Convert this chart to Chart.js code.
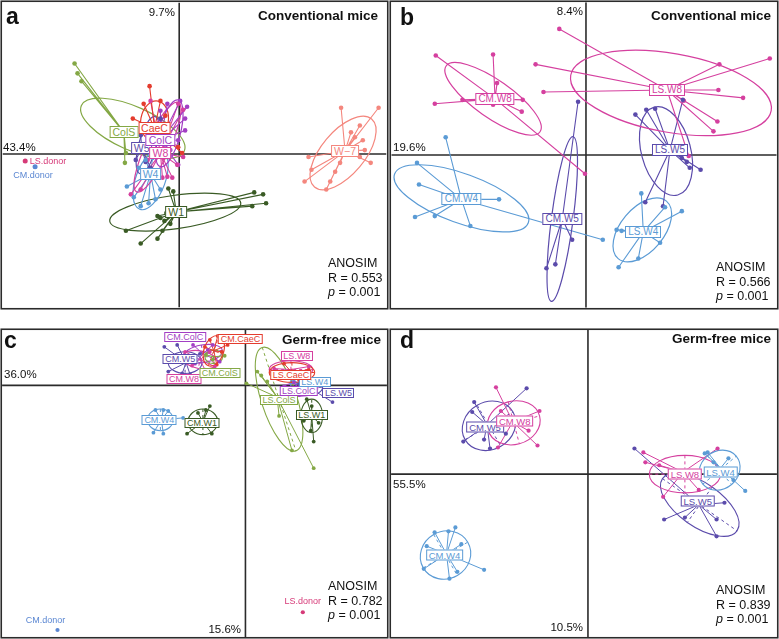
<!DOCTYPE html>
<html><head><meta charset="utf-8">
<script src="https://cdn.jsdelivr.net/npm/chart.js@4.4.1/dist/chart.umd.min.js"></script>
<style>
html,body{margin:0;padding:0;background:#fff}
#fig{position:relative;width:779px;height:639px;overflow:hidden;font-family:"Liberation Sans",Arial,Helvetica,sans-serif;color:#111}
#fig canvas{position:absolute}
.t{position:absolute;white-space:nowrap;line-height:1}
.lab{position:absolute;white-space:nowrap;background:#fff;transform:translate(-50%,-50%);box-sizing:border-box}
.dl{position:absolute;white-space:nowrap;line-height:1;transform:translate(-50%,-50%)}
</style></head><body>
<div id="fig">
<canvas id="pa" width="389" height="310"></canvas>
<canvas id="pb" width="390" height="310"></canvas>
<canvas id="pc" width="389" height="311"></canvas>
<canvas id="pd" width="390" height="311"></canvas>
</div>
<script>
// ---------------- texts ----------------
const panelLetters = ['a','b','c','d'];
const panelTitles = ['Conventional mice','Conventional mice','Germ-free mice','Germ-free mice'];
const pc1Pct = ['43.4%','19.6%','36.0%','55.5%'];
const pc2Pct = ['9.7%','8.4%','15.6%','10.5%'];
const anosimR = ['0.553','0.566','0.782','0.839'];
const anosimP = ['0.001','0.001','0.001','0.001'];

// ---------------- panel a : conventional mice ----------------
const aGroups = ['W1','W−7','ColS','W4','W5','W8','CaeC','ColC'];
const aCentroids = [[-0.003,-0.059],[0.168,0.003],[-0.056,0.022],[-0.029,-0.020],[-0.038,0.006],[-0.019,0.001],[-0.025,0.026],[-0.019,0.014]];
const aEllipses = [[-0.004,-0.059,0.067,0.017,8],[0.166,0.001,0.045,0.022,50],[-0.047,0.026,0.057,0.022,-24],[-0.029,-0.026,0.032,0.015,70],[-0.032,0.009,0.030,0.009,75],[-0.022,0.007,0.050,0.012,65],[-0.025,0.034,0.020,0.014,80],[-0.010,0.021,0.035,0.011,75]];
const aPtsW1 = [[0.076,-0.039],[0.085,-0.041],[0.088,-0.050],[0.074,-0.053],[-0.011,-0.035],[-0.006,-0.038],[-0.022,-0.063],[-0.019,-0.065],[-0.015,-0.068],[-0.013,-0.060],[-0.054,-0.078],[-0.039,-0.091],[-0.022,-0.086],[-0.017,-0.078],[-0.009,-0.071]];
const aPtsW7 = [[0.164,0.047],[0.202,0.047],[0.174,0.022],[0.183,0.029],[0.186,0.014],[0.178,0.017],[0.188,0.004],[0.194,-0.009],[0.183,-0.003],[0.163,-0.009],[0.158,-0.018],[0.153,-0.028],[0.149,-0.036],[0.127,-0.028],[0.134,-0.016],[0.131,-0.003]];
const aPtsColS = [[-0.106,0.092],[-0.103,0.082],[-0.099,0.074],[-0.054,0.001],[-0.055,-0.009]];
const aPtsW4 = [[-0.053,-0.033],[-0.046,-0.044],[-0.039,-0.053],[-0.031,-0.050],[-0.024,-0.046],[-0.019,-0.036],[-0.034,-0.006],[-0.027,-0.004],[-0.041,-0.014]];
const aPtsW5 = [[-0.039,0.019],[-0.034,-0.008],[-0.029,-0.014],[-0.024,0.024],[-0.019,0.036],[-0.044,-0.006],[-0.014,0.004]];
const aPtsW8 = [[-0.049,-0.041],[-0.039,-0.036],[-0.017,-0.024],[-0.012,-0.023],[-0.007,-0.024],[-0.001,0.051],[0.004,0.045],[0.004,-0.003],[-0.002,-0.011],[-0.029,0.054],[-0.032,-0.006]];
const aPtsCaeC = [[-0.030,0.069],[-0.047,0.036],[-0.036,0.051],[-0.019,0.054],[-0.014,0.039],[0.003,0.001],[-0.001,0.007],[-0.009,0.014]];
const aPtsColC = [[-0.012,0.051],[0.001,0.054],[0.008,0.048],[0.006,0.036],[0.006,0.024],[-0.001,0.014],[-0.009,0.004],[-0.001,-0.011],[-0.019,0.044]];
const aDonorNames = ['LS.donor','CM.donor'];
const aDonorPts = [[-0.156,-0.007],[-0.146,-0.013]];
const aDonorLabelPos = [[-0.133,-0.007],[-0.148,-0.021]];

// ---------------- panel b : conventional mice, CM vs LS ----------------
const bGroups = ['CM.W4','LS.W4','CM.W5','LS.W5','CM.W8','LS.W8'];
const bCentroids = [[-0.126,-0.045],[0.058,-0.078],[-0.024,-0.065],[0.085,0.005],[-0.092,0.057],[0.082,0.066]];
const bEllipses = [[-0.126,-0.044,0.072,0.025,-20],[0.057,-0.076,0.038,0.022,50],[-0.024,-0.065,0.084,0.011,82.5],[0.081,0.004,0.046,0.025,-75],[-0.094,0.057,0.058,0.019,-35],[0.086,0.063,0.103,0.040,-10]];
const bPtsCMW4 = [[-0.171,-0.008],[-0.169,-0.030],[-0.173,-0.063],[-0.153,-0.062],[-0.117,-0.072],[-0.088,-0.045],[0.017,-0.086],[-0.142,0.018]];
const bPtsLSW4 = [[0.056,-0.039],[0.097,-0.057],[0.031,-0.076],[0.036,-0.077],[0.075,-0.089],[0.053,-0.105],[0.033,-0.114],[0.080,-0.053]];
const bPtsCMW5 = [[-0.008,0.054],[-0.014,-0.086],[-0.040,-0.115],[-0.031,-0.111]];
const bPtsLSW5 = [[0.050,0.041],[0.061,0.046],[0.070,0.047],[0.098,0.056],[0.097,-0.003],[0.102,-0.007],[0.105,-0.013],[0.116,-0.015],[0.060,-0.048],[0.078,-0.052]];
const bPtsCMW8 = [[-0.152,0.101],[-0.094,0.102],[-0.090,0.073],[-0.153,0.052],[-0.125,0.056],[-0.094,0.051],[-0.064,0.056],[-0.065,0.044],[-0.001,-0.019]];
const bPtsLSW8 = [[-0.027,0.128],[-0.051,0.092],[-0.043,0.064],[0.135,0.092],[0.186,0.098],[0.134,0.066],[0.159,0.058],[0.099,0.055],[0.133,0.034],[0.129,0.024],[0.104,-0.001]];

// ---------------- panel c : germ-free mice, all sites ----------------
const cGroups = ['CM.W4','CM.W1','CM.W5','CM.W8','CM.ColC','CM.ColS','CM.CaeC','LS.ColS','LS.W1','LS.W5','LS.ColC','LS.W4','LS.W8','LS.CaeC'];
const cCentroids = [[-0.085,-0.035],[-0.043,-0.037],[-0.060,0.023],[-0.046,0.026],[-0.043,0.032],[-0.032,0.029],[-0.032,0.035],[0.032,-0.012],[0.067,-0.031],[0.064,-0.002],[0.055,-0.004],[0.057,0.002],[0.046,0.016],[0.047,0.013]];
const cEllipses = [[-0.086,-0.035,0.013,0.011,0],[-0.043,-0.037,0.015,0.013,0],[-0.061,0.023,0.017,0.011,0],[-0.046,0.026,0.018,0.009,-10],[-0.043,0.032,0.020,0.009,10],[-0.032,0.029,0.009,0.007,0],[-0.032,0.035,0.016,0.010,70],[0.034,-0.014,0.055,0.018,-72],[0.067,-0.031,0.017,0.011,90],[0.064,-0.002,0.014,0.008,0],[0.055,-0.004,0.018,0.007,0],[0.057,0.002,0.012,0.006,0],[0.046,0.016,0.022,0.009,0],[0.047,0.013,0.023,0.010,0]];
const cLabelPos = [[-0.087,-0.035],[-0.044,-0.038],[-0.066,0.027],[-0.062,0.006],[-0.061,0.049],[-0.026,0.013],[-0.005,0.047],[0.034,-0.015],[0.067,-0.030],[0.094,-0.008],[0.054,-0.006],[0.070,0.003],[0.052,0.030],[0.046,0.010]];
const cPtsCMW4 = [[-0.091,-0.025],[-0.083,-0.025],[-0.078,-0.026],[-0.093,-0.048],[-0.083,-0.049],[-0.063,-0.033],[-0.096,-0.034]];
const cPtsCMW1 = [[-0.036,-0.021],[-0.040,-0.025],[-0.059,-0.049],[-0.034,-0.049],[-0.048,-0.028]];
const cPtsCMW5 = [[-0.082,0.039],[-0.069,0.041],[-0.078,0.014],[-0.056,0.011],[-0.046,0.032],[-0.064,0.012]];
const cPtsCMW8 = [[-0.061,0.034],[-0.031,0.019],[-0.041,0.016],[-0.054,0.020],[-0.036,0.034]];
const cPtsCMColC = [[-0.053,0.041],[-0.033,0.041],[-0.026,0.024],[-0.051,0.022],[-0.038,0.036]];
const cPtsCMColS = [[-0.021,0.030],[-0.040,0.031],[-0.033,0.026]];
const cPtsCMCaeC = [[-0.028,0.050],[-0.036,0.046],[-0.024,0.034],[-0.029,0.021],[-0.018,0.041],[-0.041,0.039]];
const cPtsLSColS = [[0.001,0.002],[0.012,0.014],[0.022,0.004],[0.034,-0.031],[0.047,-0.066],[0.069,-0.084],[0.016,0.010]];
const cPtsLSW1 = [[0.067,-0.021],[0.059,-0.036],[0.069,-0.057],[0.066,-0.046],[0.074,-0.038],[0.062,-0.014]];
const cPtsLSW5 = [[0.088,-0.017],[0.054,0.001],[0.072,0.004],[0.059,-0.006]];
const cPtsLSColC = [[0.039,-0.001],[0.072,-0.002],[0.054,-0.010],[0.049,0.003]];
const cPtsLSW4 = [[0.049,0.004],[0.066,0.000],[0.059,0.006]];
const cPtsLSW8 = [[0.029,0.017],[0.064,0.019],[0.049,0.009]];
const cPtsLSCaeC = [[0.039,0.022],[0.064,0.016],[0.032,0.009],[0.054,0.006]];
const cDonorNames = ['CM.donor','LS.donor'];
const cDonorPts = [[-0.190,-0.248],[0.058,-0.230]];
const cDonorLabelPos = [[-0.202,-0.238],[0.058,-0.219]];

// ---------------- panel d : germ-free mice, faeces ----------------
const dGroups = ['CM.W4','CM.W5','CM.W8','LS.W5','LS.W8','LS.W4'];
const dCentroids = [[-0.143,-0.081],[-0.102,0.050],[-0.076,0.053],[0.112,-0.031],[0.096,0.002],[0.134,0.006]];
const dEllipses = [[-0.144,-0.082,0.026,0.024,30],[-0.100,0.049,0.028,0.024,30],[-0.075,0.052,0.027,0.022,15],[0.113,-0.031,0.046,0.022,-35],[0.098,0.000,0.036,0.019,0],[0.133,0.004,0.022,0.019,40]];
const dLabelPos = [[-0.145,-0.082],[-0.104,0.048],[-0.074,0.054],[0.111,-0.027],[0.098,0.000],[0.134,0.002]];
const dPtsCMW4 = [[-0.134,-0.054],[-0.141,-0.058],[-0.155,-0.059],[-0.163,-0.073],[-0.166,-0.096],[-0.140,-0.106],[-0.132,-0.099],[-0.105,-0.097],[-0.128,-0.071]];
const dPtsCMW5 = [[-0.115,0.073],[-0.062,0.087],[-0.126,0.033],[-0.105,0.035],[-0.099,0.026],[-0.117,0.063],[-0.083,0.041]];
const dPtsCMW8 = [[-0.093,0.088],[-0.049,0.064],[-0.051,0.029],[-0.091,0.027],[-0.060,0.044],[-0.088,0.064]];
const dPtsLSW5 = [[0.047,0.026],[0.130,-0.063],[0.098,-0.044],[0.138,-0.029],[0.130,-0.046],[0.077,-0.046]];
const dPtsLSW8 = [[0.131,0.026],[0.058,0.012],[0.056,0.022],[0.076,-0.023],[0.112,-0.016],[0.072,0.009]];
const dPtsLSW4 = [[0.118,0.021],[0.121,0.022],[0.159,-0.017],[0.142,0.016],[0.147,-0.006],[0.127,0.012]];

// ---------------- styles ----------------
const groupColors = {'W−7':'#f4877e', W1:'#3a5b25', W4:'#5b9bd5', W5:'#5b4bab', W8:'#d5409f', ColC:'#a23fc4', CaeC:'#e43c2e', ColS:'#84a845'};
const donorColors = {'LS.donor':'#d63a78','CM.donor':'#5b87d2'};
function colorOf(n){ if(donorColors[n]) return donorColors[n]; const i=n.indexOf('.'); return groupColors[i>=0?n.slice(i+1):n]; }

const fig = document.getElementById('fig');
function txt(html,x,base,size,o){
  o=o||{}; const d=document.createElement('div'); d.className='t'; d.innerHTML=html;
  d.style.fontSize=size+'px'; d.style.left=x+'px'; d.style.top=(base-0.8465*size)+'px';
  if(o.bold) d.style.fontWeight='bold';
  if(o.color) d.style.color=o.color;
  if(o.align==='right') d.style.transform='translateX(-100%)';
  fig.appendChild(d); return d;
}

function pcoaPlugin(P){
  return {
    id:'pcoa_'+P.id,
    beforeDatasetsDraw(chart){
      const ctx=chart.ctx, a=chart.chartArea, x=chart.scales.x, y=chart.scales.y;
      const kx=Math.abs(x.getPixelForValue(1)-x.getPixelForValue(0));
      const ky=Math.abs(y.getPixelForValue(1)-y.getPixelForValue(0));
      ctx.save();
      ctx.beginPath(); ctx.rect(a.left,a.top,a.right-a.left,a.bottom-a.top); ctx.clip();
      const x0=x.getPixelForValue(0), y0=y.getPixelForValue(0);
      ctx.strokeStyle='#2b2b2b'; ctx.lineWidth=1.6;
      ctx.beginPath(); ctx.moveTo(x0,a.top); ctx.lineTo(x0,a.bottom); ctx.moveTo(a.left,y0); ctx.lineTo(a.right,y0); ctx.stroke();
      P.groups.forEach((g,i)=>{
        const col=colorOf(g);
        ctx.strokeStyle=col; ctx.lineWidth=P.lw; ctx.setLineDash([]);
        const c=P.centroids[i], cx=x.getPixelForValue(c[0]), cy=y.getPixelForValue(c[1]);
        ctx.beginPath();
        P.points[i].forEach(p=>{ ctx.moveTo(cx,cy); ctx.lineTo(x.getPixelForValue(p[0]),y.getPixelForValue(p[1])); });
        ctx.stroke();
        const e=P.ellipses[i], ex=x.getPixelForValue(e[0]), ey=y.getPixelForValue(e[1]);
        const rot=-e[4]*Math.PI/180, rx=e[2]*kx, ry=e[3]*ky;
        ctx.lineWidth=P.elw;
        ctx.beginPath(); ctx.ellipse(ex,ey,rx,ry,rot,0,2*Math.PI); ctx.stroke();
        if(P.axesDashed){
          const cs=Math.cos(rot), sn=Math.sin(rot);
          ctx.setLineDash([3,3]); ctx.lineWidth=1;
          ctx.beginPath();
          ctx.moveTo(ex-rx*cs,ey-rx*sn); ctx.lineTo(ex+rx*cs,ey+rx*sn);
          ctx.moveTo(ex+ry*sn,ey-ry*cs); ctx.lineTo(ex-ry*sn,ey+ry*cs);
          ctx.stroke(); ctx.setLineDash([]);
        }
      });
      ctx.restore();
    },
    afterDraw(chart){
      const ctx=chart.ctx;
      ctx.save(); ctx.strokeStyle='#2b2b2b'; ctx.lineWidth=1.6;
      ctx.strokeRect(1.25,1.25,chart.width-2.5,chart.height-2.5);
      ctx.restore();
    }
  };
}

function makePanel(P){
  const cv=document.getElementById(P.id);
  cv.style.left=P.left+'px'; cv.style.top=P.top+'px';
  const datasets=P.groups.map((g,i)=>({label:g,data:P.points[i].map(p=>({x:p[0],y:p[1]})),pointRadius:P.r,pointHoverRadius:P.r,pointBackgroundColor:colorOf(g),pointBorderWidth:0}));
  if(P.donorNames){
    datasets.push({label:'donor',data:P.donorPts.map(p=>({x:p[0],y:p[1]})),pointRadius:P.r+0.2,pointHoverRadius:P.r,pointBackgroundColor:P.donorNames.map(colorOf),pointBorderWidth:0});
  }
  const chart=new Chart(cv,{type:'scatter',data:{datasets},
    options:{responsive:false,animation:false,events:[],layout:{padding:0},
      plugins:{legend:{display:false},tooltip:{enabled:false}},
      scales:{x:{type:'linear',min:P.xr[0],max:P.xr[1],display:false},y:{type:'linear',min:P.yr[0],max:P.yr[1],display:false}}},
    plugins:[pcoaPlugin(P)]});
  const xs=chart.scales.x, ys=chart.scales.y;
  const lp=P.labels||P.centroids;
  P.groups.forEach((g,i)=>{
    const col=colorOf(g), d=document.createElement('div'); d.className='lab'; d.textContent=g;
    d.style.left=(P.left+xs.getPixelForValue(lp[i][0]))+'px';
    d.style.top=(P.top+ys.getPixelForValue(lp[i][1]))+'px';
    d.style.fontSize=P.lf+'px'; d.style.lineHeight=P.lh+'px'; d.style.padding='0 '+P.lpad+'px';
    d.style.border='1.2px solid '+col; d.style.color=col;
    fig.appendChild(d);
  });
  if(P.donorNames){
    P.donorNames.forEach((n,i)=>{
      const d=document.createElement('div'); d.className='dl'; d.textContent=n;
      d.style.left=(P.left+xs.getPixelForValue(P.donorLabelPos[i][0]))+'px';
      d.style.top=(P.top+ys.getPixelForValue(P.donorLabelPos[i][1]))+'px';
      d.style.fontSize='9px'; d.style.color=colorOf(n);
      fig.appendChild(d);
    });
  }
  return chart;
}

makePanel({id:'pa',left:0,top:0,xr:[-0.179,0.210],yr:[-0.156,0.154],groups:aGroups,centroids:aCentroids,ellipses:aEllipses,
  points:[aPtsW1,aPtsW7,aPtsColS,aPtsW4,aPtsW5,aPtsW8,aPtsCaeC,aPtsColC],r:2.3,lw:1.1,elw:1.2,axesDashed:false,lf:10.5,lh:10,lpad:2,
  donorNames:aDonorNames,donorPts:aDonorPts,donorLabelPos:aDonorLabelPos});
makePanel({id:'pb',left:389,top:0,xr:[-0.197,0.193],yr:[-0.155,0.155],groups:bGroups,centroids:bCentroids,ellipses:bEllipses,
  points:[bPtsCMW4,bPtsLSW4,bPtsCMW5,bPtsLSW5,bPtsCMW8,bPtsLSW8],r:2.3,lw:1.1,elw:1.2,axesDashed:false,lf:10,lh:10,lpad:2});
makePanel({id:'pc',left:0,top:328,xr:[-0.246,0.143],yr:[-0.255,0.056],groups:cGroups,centroids:cCentroids,ellipses:cEllipses,labels:cLabelPos,
  points:[cPtsCMW4,cPtsCMW1,cPtsCMW5,cPtsCMW8,cPtsCMColC,cPtsCMColS,cPtsCMCaeC,cPtsLSColS,cPtsLSW1,cPtsLSW5,cPtsLSColC,cPtsLSW4,cPtsLSW8,cPtsLSCaeC],
  r:1.9,lw:1,elw:1.1,axesDashed:true,lf:9,lh:8,lpad:1.5,
  donorNames:cDonorNames,donorPts:cDonorPts,donorLabelPos:cDonorLabelPos});
makePanel({id:'pd',left:389,top:328,xr:[-0.199,0.191],yr:[-0.165,0.146],groups:dGroups,centroids:dCentroids,ellipses:dEllipses,labels:dLabelPos,
  points:[dPtsCMW4,dPtsCMW5,dPtsCMW8,dPtsLSW5,dPtsLSW8,dPtsLSW4],r:2.1,lw:1,elw:1.1,axesDashed:true,lf:9.5,lh:9,lpad:2});

// ---------------- static texts ----------------
const letterPos=[[6,24],[400,25],[4,348],[400,348]];
const titlePos=[[378,20],[771,20],[381,344],[771,343]];
const pc1Pos=[[3,152],[393,152],[4,379],[393,489]];
const pc2Pos=[[175,17],[583,16],[241,634],[583,632]];
const anoPos=[[328,268],[716,272],[328,591],[716,595]];
for(let i=0;i<4;i++){
  txt(panelLetters[i],letterPos[i][0],letterPos[i][1],23,{bold:true});
  txt(panelTitles[i],titlePos[i][0],titlePos[i][1],13.5,{bold:true,align:'right'});
  txt(pc1Pct[i],pc1Pos[i][0],pc1Pos[i][1],11.5);
  txt(pc2Pct[i],pc2Pos[i][0],pc2Pos[i][1],11.5,{align:'right'});
  txt('ANOSIM',anoPos[i][0],anoPos[i][1],12.5);
  txt('R = '+anosimR[i],anoPos[i][0],anoPos[i][1]+15,12.5);
  txt('<i>p</i> = '+anosimP[i],anoPos[i][0],anoPos[i][1]+29,12.5);
}
</script>
</body></html>
